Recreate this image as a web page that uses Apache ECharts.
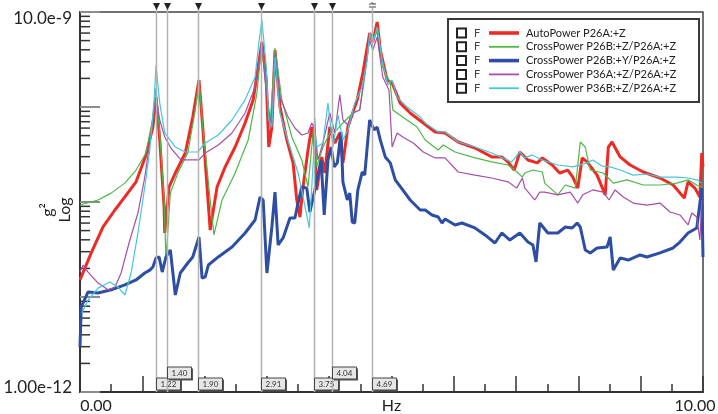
<!DOCTYPE html>
<html>
<head>
<meta charset="utf-8">
<script src="https://cdn.jsdelivr.net/npm/echarts@6/dist/echarts.min.js"></script>
<style>
  html, body { margin: 0; padding: 0; background: #fff; }
  #chart { width: 718px; height: 414px; }
</style>
</head>
<body>
<div id="chart"></div>
<script>
// [Hz, g^2]
const autoP26A = [
  [0, 1.51e-11], [0.18, 2.91e-11], [0.37, 5.46e-11], [0.56, 8.24e-11], [0.72, 1.13e-10], [0.90, 1.63e-10],
  [1.06, 3.13e-10], [1.17, 6.16e-10], [1.22, 1.27e-9], [1.28, 4.50e-10], [1.35, 8.85e-11], [1.36, 4.72e-11],
  [1.43, 1.44e-10], [1.53, 2.02e-10], [1.69, 3.28e-10], [1.81, 7.85e-10], [1.91, 1.92e-9], [1.97, 6.16e-10],
  [2.09, 5.07e-11], [2.20, 1.44e-10], [2.33, 2.34e-10], [2.49, 3.79e-10], [2.65, 6.79e-10], [2.78, 1.19e-9],
  [2.86, 2.64e-9], [2.92, 4.83e-9], [2.99, 1.92e-9], [3.03, 3.79e-10], [3.08, 6.16e-10], [3.13, 3.98e-9],
  [3.21, 1.0e-9], [3.32, 4.50e-10], [3.42, 2.58e-10], [3.48, 1.05e-10], [3.53, 6.95e-11], [3.58, 1.44e-10],
  [3.66, 3.53e-10], [3.72, 6.16e-10], [3.77, 3.79e-10], [3.80, 1.34e-10], [3.88, 2.98e-10], [3.93, 2.02e-10],
  [4.01, 6.16e-10], [4.09, 4.18e-10], [4.17, 5.33e-10], [4.22, 2.58e-10], [4.30, 6.16e-10], [4.45, 1.19e-9],
  [4.54, 2.28e-9], [4.65, 6.01e-9], [4.70, 4.83e-9], [4.77, 7.85e-9], [4.82, 3.98e-9], [4.93, 1.92e-9],
  [5.01, 1.79e-9], [5.14, 1.10e-9], [5.30, 8.65e-10], [5.51, 6.79e-10], [5.70, 5.46e-10], [5.86, 5.33e-10],
  [6.07, 4.28e-10], [6.34, 3.70e-10], [6.61, 2.98e-10], [6.77, 2.98e-10], [6.87, 2.64e-10], [6.97, 2.17e-10],
  [7.06, 3.36e-10], [7.19, 2.77e-10], [7.34, 2.58e-10], [7.42, 2.91e-10], [7.58, 2.45e-10], [7.70, 2.02e-10],
  [7.83, 2.17e-10], [7.91, 1.83e-10], [7.99, 1.40e-10], [8.06, 2.91e-10], [8.14, 2.64e-10], [8.30, 1.92e-10],
  [8.43, 1.19e-10], [8.48, 3.79e-10], [8.54, 4.28e-10], [8.67, 2.98e-10], [8.83, 2.45e-10], [9.04, 2.07e-10],
  [9.31, 1.79e-10], [9.52, 1.51e-10], [9.70, 1.10e-10], [9.76, 1.63e-10], [9.87, 1.40e-10], [9.95, 1.13e-10],
  [9.98, 3.28e-10], [10.0, 2.34e-10]
];
const crossP26BZ = [
  [0, 9.3e-11], [0.29, 1.05e-10], [0.50, 1.24e-10], [0.72, 1.58e-10], [0.90, 2.17e-10], [1.06, 3.28e-10],
  [1.17, 7.85e-10], [1.22, 1.58e-9], [1.28, 5.33e-10], [1.35, 1.05e-10], [1.38, 2.45e-11], [1.45, 1.24e-10],
  [1.57, 2.02e-10], [1.73, 3.28e-10], [1.85, 9.30e-10], [1.91, 1.92e-9], [1.97, 6.16e-10], [2.09, 1.05e-10],
  [2.15, 4.50e-11], [2.28, 1.05e-10], [2.49, 2.02e-10], [2.70, 4.50e-10], [2.84, 1.40e-9], [2.92, 4.83e-9],
  [3.00, 1.40e-9], [3.05, 6.16e-10], [3.13, 4.18e-9], [3.24, 1.19e-9], [3.40, 4.83e-10], [3.56, 2.77e-10],
  [3.66, 1.44e-10], [3.72, 3.79e-10], [3.77, 7.66e-10], [3.80, 2.34e-10], [3.90, 3.79e-10], [4.01, 5.33e-10],
  [4.12, 5.73e-10], [4.22, 6.79e-10], [4.38, 8.65e-10], [4.49, 9.30e-10], [4.57, 2.07e-9], [4.65, 5.46e-9],
  [4.73, 5.46e-9], [4.78, 6.47e-9], [4.86, 2.64e-9], [4.98, 1.79e-9], [5.02, 9.30e-10], [5.18, 7.85e-10],
  [5.41, 6.16e-10], [5.54, 4.50e-10], [5.75, 3.53e-10], [5.83, 3.98e-10], [6.02, 3.36e-10], [6.34, 2.91e-10],
  [6.61, 2.64e-10], [6.87, 2.45e-10], [6.98, 2.17e-10], [7.10, 1.83e-10], [7.14, 2.02e-10], [7.27, 2.17e-10],
  [7.42, 2.07e-10], [7.46, 1.58e-10], [7.67, 1.19e-10], [7.79, 1.51e-10], [7.95, 1.40e-10], [8.03, 4.28e-10],
  [8.11, 3.79e-10], [8.19, 2.17e-10], [8.40, 2.02e-10], [8.56, 1.58e-10], [8.78, 1.71e-10], [9.04, 1.51e-10],
  [9.31, 1.51e-10], [9.58, 1.58e-10], [9.76, 1.71e-10], [9.90, 1.51e-10], [9.98, 1.44e-10]
];
const crossP26BY = [
  [0, 2.98e-12], [0.02, 7.85e-12], [0.13, 1.13e-11], [0.29, 1.10e-11], [0.50, 1.19e-11], [0.72, 1.34e-11],
  [0.90, 1.51e-11], [1.04, 1.79e-11], [1.12, 1.92e-11], [1.17, 2.07e-11], [1.22, 2.58e-11], [1.27, 2.64e-11],
  [1.32, 1.83e-11], [1.38, 2.64e-11], [1.45, 3.13e-11], [1.53, 1.05e-11], [1.61, 1.79e-11], [1.73, 2.28e-11],
  [1.81, 2.64e-11], [1.91, 4.28e-11], [1.96, 1.58e-11], [2.01, 1.63e-11], [2.06, 2.17e-11], [2.22, 2.64e-11],
  [2.44, 3.36e-11], [2.65, 4.72e-11], [2.81, 6.47e-11], [2.89, 1.13e-10], [2.94, 1.05e-10], [3.00, 1.79e-11],
  [3.08, 5.46e-11], [3.13, 1.27e-10], [3.18, 3.53e-11], [3.26, 4.18e-11], [3.37, 6.79e-11], [3.45, 6.79e-11],
  [3.50, 9.75e-11], [3.56, 1.44e-10], [3.64, 1.40e-10], [3.69, 7.85e-11], [3.77, 1.34e-10], [3.87, 2.77e-10],
  [3.92, 7.30e-11], [3.98, 2.77e-10], [4.03, 3.79e-10], [4.08, 2.34e-10], [4.13, 2.58e-10], [4.19, 5.46e-10],
  [4.22, 1.63e-10], [4.29, 1.05e-10], [4.33, 1.24e-10], [4.37, 6.16e-11], [4.41, 6.01e-11], [4.46, 1.34e-10],
  [4.53, 2.07e-10], [4.57, 1.92e-10], [4.61, 3.79e-10], [4.65, 7.30e-10], [4.72, 5.73e-10], [4.77, 6.16e-10],
  [4.82, 4.50e-10], [4.90, 2.98e-10], [4.98, 2.58e-10], [5.06, 1.71e-10], [5.18, 1.34e-10], [5.30, 1.05e-10],
  [5.46, 8.24e-11], [5.54, 8.24e-11], [5.65, 7.30e-11], [5.75, 6.95e-11], [5.81, 6.01e-11], [5.86, 6.62e-11],
  [6.02, 5.73e-11], [6.13, 6.01e-11], [6.34, 5.33e-11], [6.50, 4.50e-11], [6.66, 3.70e-11], [6.77, 4.72e-11],
  [6.90, 3.98e-11], [7.06, 4.72e-11], [7.19, 3.79e-11], [7.27, 3.53e-11], [7.32, 2.34e-11], [7.38, 6.01e-11],
  [7.51, 4.72e-11], [7.67, 4.72e-11], [7.79, 5.46e-11], [7.90, 5.33e-11], [7.98, 6.01e-11], [8.03, 5.46e-11],
  [8.11, 3.13e-11], [8.19, 2.91e-11], [8.30, 3.28e-11], [8.46, 3.36e-11], [8.51, 4.28e-11], [8.56, 1.92e-11],
  [8.67, 2.58e-11], [8.80, 2.45e-11], [8.99, 2.77e-11], [9.10, 2.64e-11], [9.31, 2.91e-11], [9.52, 3.28e-11],
  [9.63, 3.79e-11], [9.76, 4.72e-11], [9.90, 5.33e-11], [9.98, 1.40e-10], [10.0, 2.64e-11]
];
const crossP36AZ = [
  [0, 1.83e-11], [0.05, 2.17e-11], [0.13, 1.83e-11], [0.29, 1.40e-11], [0.45, 1.19e-11], [0.56, 1.27e-11],
  [0.66, 1.79e-11], [0.80, 3.98e-11], [0.93, 7.66e-11], [1.04, 1.83e-10], [1.12, 4.18e-10], [1.19, 9.30e-10],
  [1.22, 1.27e-9], [1.28, 7.30e-10], [1.36, 4.83e-10], [1.46, 3.70e-10], [1.62, 2.77e-10], [1.85, 2.77e-10],
  [1.91, 2.77e-10], [2.01, 3.28e-10], [2.22, 3.98e-10], [2.44, 5.33e-10], [2.65, 8.65e-10], [2.81, 1.63e-9],
  [2.92, 4.72e-9], [2.97, 1.92e-9], [3.07, 6.01e-10], [3.13, 3.70e-9], [3.21, 1.27e-9], [3.34, 7.85e-10],
  [3.45, 6.01e-10], [3.56, 5.07e-10], [3.66, 5.33e-10], [3.72, 6.79e-10], [3.77, 5.73e-10], [3.82, 2.77e-10],
  [3.90, 4.18e-10], [4.01, 8.65e-10], [4.09, 5.33e-10], [4.17, 1.34e-9], [4.22, 7.30e-10], [4.30, 6.47e-10],
  [4.38, 8.65e-10], [4.49, 9.30e-10], [4.57, 2.28e-9], [4.65, 5.07e-9], [4.70, 3.98e-9], [4.77, 5.46e-9],
  [4.86, 2.07e-9], [4.96, 1.51e-9], [5.01, 3.79e-10], [5.09, 5.33e-10], [5.18, 4.83e-10], [5.35, 4.18e-10],
  [5.51, 3.36e-10], [5.70, 2.91e-10], [5.86, 2.91e-10], [6.07, 2.07e-10], [6.34, 1.92e-10], [6.61, 1.79e-10],
  [6.87, 1.63e-10], [7.01, 1.40e-10], [7.10, 1.79e-10], [7.14, 1.40e-10], [7.30, 1.05e-10], [7.38, 1.27e-10],
  [7.46, 1.27e-10], [7.67, 1.19e-10], [7.87, 1.27e-10], [7.99, 9.75e-11], [8.07, 1.19e-10], [8.23, 1.34e-10],
  [8.40, 1.27e-10], [8.49, 1.05e-10], [8.59, 1.34e-10], [8.72, 1.13e-10], [8.88, 9.75e-11], [9.10, 9.29e-11],
  [9.31, 9.75e-11], [9.47, 7.85e-11], [9.63, 7.30e-11], [9.76, 5.73e-11], [9.82, 7.66e-11], [9.90, 6.95e-11],
  [9.95, 3.98e-11], [9.98, 1.05e-10]
];
const crossP36BZ = [
  [0.03, 6.79e-12], [0.13, 9.30e-12], [0.29, 1.24e-11], [0.48, 1.44e-11], [0.61, 1.27e-11], [0.72, 1.05e-11],
  [0.82, 1.79e-11], [0.93, 4.72e-11], [1.04, 1.44e-10], [1.12, 3.53e-10], [1.19, 1.19e-9], [1.22, 2.77e-9],
  [1.28, 1.10e-9], [1.36, 5.33e-10], [1.53, 3.79e-10], [1.69, 3.36e-10], [1.89, 3.36e-10], [2.01, 4.18e-10],
  [2.22, 5.07e-10], [2.44, 7.30e-10], [2.65, 1.19e-9], [2.81, 2.07e-9], [2.87, 4.72e-9], [2.92, 8.24e-9],
  [2.99, 2.64e-9], [3.03, 7.30e-10], [3.08, 6.16e-10], [3.13, 3.36e-9], [3.21, 8.65e-10], [3.32, 4.83e-10],
  [3.42, 2.98e-10], [3.50, 2.02e-10], [3.58, 1.13e-10], [3.68, 5.33e-11], [3.72, 1.44e-10], [3.77, 5.33e-10],
  [3.80, 3.79e-10], [3.90, 4.18e-10], [3.98, 1.10e-9], [4.06, 3.79e-10], [4.14, 8.24e-10], [4.22, 4.50e-10],
  [4.30, 5.73e-10], [4.41, 1.10e-9], [4.53, 1.63e-9], [4.61, 3.13e-9], [4.65, 6.01e-9], [4.70, 4.72e-9],
  [4.77, 6.95e-9], [4.85, 3.13e-9], [4.94, 1.71e-9], [5.01, 1.92e-9], [5.09, 1.27e-9], [5.25, 1.0e-9],
  [5.46, 7.85e-10], [5.54, 6.79e-10], [5.75, 5.46e-10], [5.86, 5.46e-10], [6.07, 4.28e-10], [6.34, 3.79e-10],
  [6.61, 3.28e-10], [6.93, 2.64e-10], [7.06, 3.36e-10], [7.14, 2.91e-10], [7.26, 3.13e-10], [7.42, 2.77e-10],
  [7.67, 2.45e-10], [7.91, 2.34e-10], [8.14, 2.58e-10], [8.23, 2.77e-10], [8.38, 2.39e-10], [8.51, 2.34e-10],
  [8.67, 2.17e-10], [8.88, 1.92e-10], [9.10, 1.97e-10], [9.31, 1.83e-10], [9.58, 1.83e-10], [9.76, 1.79e-10],
  [9.90, 1.71e-10], [9.98, 1.58e-10]
];

const seriesNames = [
  'AutoPower P26A:+Z',
  'CrossPower P26B:+Z/P26A:+Z',
  'CrossPower P26B:+Y/P26A:+Z',
  'CrossPower P36A:+Z/P26A:+Z',
  'CrossPower P36B:+Z/P26A:+Z'
];
const seriesData = [autoP26A, crossP26BZ, crossP26BY, crossP36AZ, crossP36BZ];
const seriesColors = ['#ee2a24', '#4bb848', '#2e4ea3', '#a64ea9', '#44c7da'];
const seriesWidths = [3, 1.2, 3, 1.2, 1.2];

// cursor markers (Hz)
const markerHz = [1.22, 1.40, 1.90, 2.91, 3.75, 4.04, 4.69];
const activeMarker = 4.69;

// log minor ticks
const decades = [1e-12, 1e-11, 1e-10, 1e-9];
const minorMult = [2, 3, 4, 5, 6, 7, 8, 9];
const minorTicks = [];
decades.forEach(d => minorMult.forEach(m => minorTicks.push([0, d * m])));

// label boxes that would collide go to the upper row
const markerRow = [];
let lastLow = -Infinity;
markerHz.forEach(h => {
  if (h - lastLow < 0.4) { markerRow.push(1); }
  else { markerRow.push(0); lastLow = h; }
});

const chart = echarts.init(document.getElementById('chart'));

const lineSeries = seriesNames.map((name, i) => ({
  name: name,
  type: 'line',
  data: seriesData[i],
  showSymbol: false,
  symbol: 'none',
  lineStyle: { color: seriesColors[i], width: seriesWidths[i] },
  itemStyle: { color: seriesColors[i] },
  z: 3 + i
}));

const legendEls = [{
  type: 'rect',
  shape: { x: 448, y: 19, width: 251, height: 83 },
  style: { fill: '#fff', stroke: '#3a3a3a', lineWidth: 2 },
  z: 100
}];
seriesNames.forEach((name, i) => {
  const y = 33 + i * 13.8;
  legendEls.push(
    { type: 'rect', shape: { x: 457, y: y - 4.5, width: 9, height: 9 },
      style: { fill: '#fff', stroke: '#222', lineWidth: 2 }, z: 101 },
    { type: 'text', x: 474, y: y,
      style: { text: 'F', font: '11px Lato', fill: '#444', verticalAlign: 'middle' }, z: 101 },
    { type: 'line', shape: { x1: 489, y1: y, x2: 519, y2: y },
      style: { stroke: seriesColors[i], lineWidth: seriesWidths[i] + 0.6 }, z: 101 },
    { type: 'text', x: 526, y: y,
      style: { text: name, font: '11px Lato', fill: '#222', verticalAlign: 'middle' }, z: 101 }
  );
});

const option = {
  animation: false,
  backgroundColor: '#fff',
  grid: {
    left: 80, top: 12, right: 15, bottom: 22,
    containLabel: false, outerBoundsMode: 'none',
    show: true, borderColor: '#444', borderWidth: 1.5
  },
  xAxis: {
    type: 'value',
    min: 0,
    max: 10,
    interval: 1,
    name: 'Hz',
    nameLocation: 'middle',
    nameGap: 6,
    nameMoveOverlap: false,
    nameTextStyle: { fontFamily: 'Lato', fontSize: 16, color: '#222' },
    axisLine: { lineStyle: { color: '#333', width: 2 } },
    axisTick: { inside: true, length: 16, lineStyle: { color: '#333', width: 1.5 } },
    minorTick: { show: true, splitNumber: 2, length: 8, lineStyle: { color: '#333', width: 1.5 } },
    splitLine: { show: false },
    axisLabel: {
      interval: 0,
      margin: 6,
      fontFamily: 'Lato',
      fontSize: 16,
      color: '#222',
      formatter: v => v === 0 ? '{l|0.00}' : (v === 10 ? '{r|10.00}' : ''),
      rich: {
        l: { fontFamily: 'Lato', fontSize: 16, color: '#222', padding: [0, 0, 0, 32] },
        r: { fontFamily: 'Lato', fontSize: 16, color: '#222', padding: [0, 16, 0, 0] }
      }
    }
  },
  yAxis: {
    type: 'log',
    logBase: 10,
    min: 1e-12,
    max: 1e-8,
    axisLine: { show: true, lineStyle: { color: '#333', width: 2 } },
    axisTick: { inside: true, length: 20, lineStyle: { color: '#8c8c8c', width: 2 } },
    splitLine: { show: false },
    axisLabel: {
      margin: 8,
      formatter: v => {
        const e = Math.round(Math.log10(v));
        if (e === -8) return '{t|10.0e-9}';
        if (e === -12) return '{b|1.00e-12}';
        return '';
      },
      rich: {
        t: { fontFamily: 'Lato', fontSize: 17, color: '#222', padding: [13, 0, 0, 0] },
        b: { fontFamily: 'Lato', fontSize: 17, color: '#222', padding: [0, 0, 9, 0] }
      }
    }
  },
  graphic: [
    { type: 'text', x: 56, y: 210, rotation: Math.PI / 2,
      style: { text: 'g²\nLog', font: '16px Lato', fill: '#222', align: 'center', verticalAlign: 'middle', lineHeight: 17 } }
  ].concat(legendEls),
  series: [
    {
      type: 'custom',
      name: 'minorTicks',
      data: minorTicks,
      silent: true,
      renderItem: (params, api) => {
        const p = api.coord([api.value(0), api.value(1)]);
        const cs = params.coordSys;
        return { type: 'line', shape: { x1: cs.x, y1: p[1], x2: cs.x + 10, y2: p[1] },
          style: { stroke: '#333', lineWidth: 1.5 } };
      },
      z: 2
    }
  ].concat(lineSeries).concat([
    {
      type: 'custom',
      name: 'markers',
      data: markerHz.map((h, i) => [h, markerRow[i]]),
      silent: true,
      clip: false,
      z: 20,
      renderItem: (params, api) => {
        const hz = api.value(0);
        const row = api.value(1);
        const x = Math.round(api.coord([hz, 1e-10])[0]) + 0.5;
        const cs = params.coordSys;
        const bottom = cs.y + cs.height;
        const boxY = row ? bottom - 25 : bottom - 14;
        const kids = [
          { type: 'line', shape: { x1: x, y1: cs.y - 4, x2: x, y2: bottom },
            style: { stroke: '#b2b2b2', lineWidth: 1.5 } }
        ];
        if (hz === activeMarker) {
          kids.push(
            { type: 'line', shape: { x1: x - 3.5, y1: cs.y - 8, x2: x + 3.5, y2: cs.y - 8 }, style: { stroke: '#444', lineWidth: 1 } },
            { type: 'line', shape: { x1: x - 3.5, y1: cs.y - 5, x2: x + 3.5, y2: cs.y - 5 }, style: { stroke: '#444', lineWidth: 1 } },
            { type: 'line', shape: { x1: x - 1, y1: cs.y - 10, x2: x + 1, y2: cs.y - 8 }, style: { stroke: '#444', lineWidth: 1 } }
          );
        } else {
          kids.push({ type: 'polygon',
            shape: { points: [[x - 3.5, cs.y - 9], [x + 3.5, cs.y - 9], [x, cs.y - 2]] },
            style: { fill: '#222' } });
        }
        kids.push(
          { type: 'rect', shape: { x: x + 1.5, y: boxY + 1.5, width: 24, height: 12 }, style: { fill: '#555' } },
          { type: 'rect', shape: { x: x, y: boxY, width: 24, height: 12 },
            style: { fill: '#e6e6e6', stroke: '#444', lineWidth: 1 } },
          { type: 'text', x: x + 12, y: boxY + 6.5,
            style: { text: hz.toFixed(2), font: '8px Lato', fill: '#333', align: 'center', verticalAlign: 'middle' } }
        );
        return { type: 'group', children: kids };
      }
    }
  ])
};

chart.setOption(option);
</script>
</body>
</html>
